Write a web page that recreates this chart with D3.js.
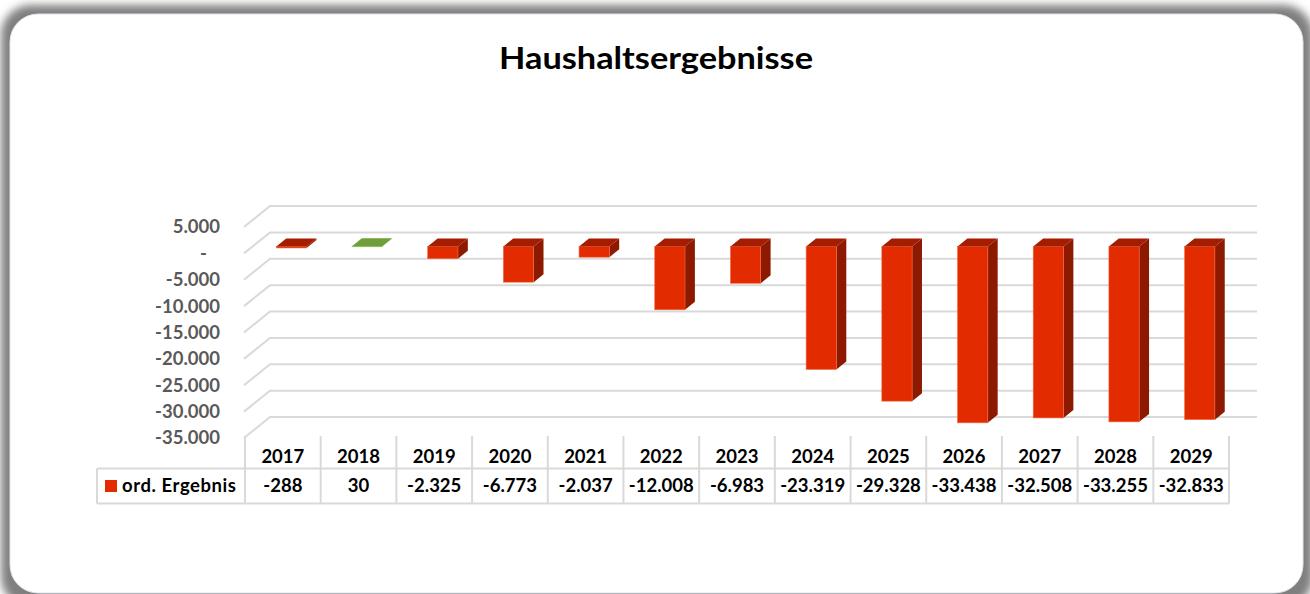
<!DOCTYPE html>
<html>
<head>
<meta charset="utf-8">
<script src="https://cdn.jsdelivr.net/npm/d3@7/dist/d3.min.js"></script>
<style>
  html, body { margin: 0; padding: 0; background: #ffffff; }
  svg { display: block; }
  text { font-family: Lato, "Open Sans", "DejaVu Sans", sans-serif; font-weight: bold; }
</style>
</head>
<body>
<svg id="chart" width="1310" height="594"></svg>
<script>
// ---- data ----
const title = "Haushaltsergebnisse";
const seriesName = "ord. Ergebnis";
const years = ["2017","2018","2019","2020","2021","2022","2023","2024","2025","2026","2027","2028","2029"];
const values = [-288, 30, -2325, -6773, -2037, -12008, -6983, -23319, -29328, -33438, -32508, -33255, -32833];
const tickValues = [5000, 0, -5000, -10000, -15000, -20000, -25000, -30000, -35000];
const tickLabels = ["5.000", "-", "-5.000", "-10.000", "-15.000", "-20.000", "-25.000", "-30.000", "-35.000"];

// ---- layout ----
const W = 1310, H = 594;
const FS = "18.5px";
const svg = d3.select("#chart");
const defs = svg.append("defs");

const f = defs.append("filter").attr("id", "shadow").attr("x", "-5%").attr("y", "-5%").attr("width", "110%").attr("height", "110%");
f.append("feGaussianBlur").attr("stdDeviation", 4);

// card with shadow
svg.append("rect").attr("x", 1).attr("y", 5).attr("width", 1312).attr("height", 602)
  .attr("rx", 30).attr("fill", "#7f7f7f").attr("filter", "url(#shadow)");
svg.append("rect").attr("x", 10).attr("y", 14).attr("width", 1293).attr("height", 579)
  .attr("rx", 28).attr("fill", "#ffffff").attr("stroke", "#dfe6f1").attr("stroke-width", 1);

// scales
const x = d3.scaleBand().domain(years).range([245, 1229]).padding(0);
const yFront = d3.scaleLinear().domain([-35000, 5000]).range([438, 227]);
const DX = 26, DY = -21;          // full depth vector
const f1 = 0.33, f2 = 0.71;       // bar front / back depth fraction
const barW = x.bandwidth() * 0.40;

// gridlines (back wall + left side wall)
const grid = svg.append("g");
tickValues.forEach(v => {
  const yf = yFront(v);
  const x0 = x.range()[0] - 1;
  grid.append("path")
    .attr("d", `M${x0},${yf} L${x0 + DX},${yf + DY} L${x.range()[1] + DX + 2},${yf + DY}`)
    .attr("fill", "none").attr("stroke", "#d9d9d9").attr("stroke-width", 2);
});

// bars
const barsG = svg.append("g");
years.forEach((yr, i) => {
  const v = values[i];
  const pos = v >= 0;
  const xl = x(yr) + x.bandwidth() / 2 - barW / 2 + f1 * DX;
  const xr = xl + barW;
  const y0 = yFront(0) + f1 * DY;
  const yv = yFront(v) + f1 * DY;
  const top = Math.min(y0, yv), bot = Math.max(y0, yv);
  const ddx = (f2 - f1) * DX, ddy = (f2 - f1) * DY;
  const cFront = pos ? "#7aab43" : "#e32b00";
  const cTop = pos ? "#6f9e3a" : "#a51d00";
  const cSide = pos ? "#5a822e" : "#8d1a00";
  const g = barsG.append("g");
  g.append("path")
    .attr("d", `M${xr},${top} L${xr + ddx},${top + ddy} L${xr + ddx},${bot + ddy} L${xr},${bot} Z`)
    .attr("fill", cSide);
  g.append("rect").attr("x", xl).attr("y", top).attr("width", barW).attr("height", Math.max(bot - top, 0.5))
    .attr("fill", cFront).attr("stroke", pos ? "#9cc86a" : "#f26a45").attr("stroke-width", 0.6);
  g.append("path")
    .attr("d", `M${xl},${top} L${xr},${top} L${xr + ddx},${top + ddy} L${xl + ddx},${top + ddy} Z`)
    .attr("fill", cTop);
});

// y axis labels
const axis = d3.axisLeft(yFront).tickValues(tickValues)
  .tickFormat(d => { const l = tickLabels[tickValues.indexOf(d)]; return l === "-" ? "-\u2007\u2009" : l; })
  .tickSize(0).tickPadding(0);
const ag = svg.append("g").attr("transform", "translate(220,0)").call(axis);
ag.select(".domain").remove();
ag.selectAll("text").attr("fill", "#595959").style("font-size", FS)
  .style("font-family", "Lato, 'Open Sans', sans-serif").style("font-weight", "bold");

// data table
const fmtLocale = d3.formatLocale({ decimal: ",", thousands: ".", grouping: [3], currency: ["", ""], minus: "-" });
const fmt = fmtLocale.format(",d");
const tbl = svg.append("g");
const lineC = "#d9d9d9";
const yTop = 436, yMid = 468.5, yBot = 503.5, xLeft = 97;
tbl.append("line").attr("x1", xLeft).attr("x2", x.range()[1]).attr("y1", yMid).attr("y2", yMid).attr("stroke", lineC).attr("stroke-width", 2);
tbl.append("line").attr("x1", xLeft).attr("x2", x.range()[1]).attr("y1", yBot).attr("y2", yBot).attr("stroke", lineC).attr("stroke-width", 2);
tbl.append("line").attr("x1", xLeft).attr("x2", xLeft).attr("y1", yMid).attr("y2", yBot).attr("stroke", lineC).attr("stroke-width", 2);
const bounds = years.map(d => x(d)).concat([x.range()[1]]);
bounds.forEach(bx => {
  tbl.append("line").attr("x1", bx).attr("x2", bx).attr("y1", yTop).attr("y2", yBot).attr("stroke", lineC).attr("stroke-width", 2);
});
years.forEach(yr => {
  tbl.append("text").attr("x", x(yr) + x.bandwidth() / 2).attr("y", 463)
    .attr("text-anchor", "middle").attr("fill", "#000").style("font-size", FS).text(yr);
});
years.forEach((yr, i) => {
  tbl.append("text").attr("x", x(yr) + x.bandwidth() / 2).attr("y", 492)
    .attr("text-anchor", "middle").attr("fill", "#000").style("font-size", FS).text(fmt(values[i]));
});
tbl.append("rect").attr("x", 105).attr("y", 480).attr("width", 12).attr("height", 12).attr("fill", "#e32b00");
tbl.append("text").attr("x", 122).attr("y", 492).attr("fill", "#000").style("font-size", FS)
  .attr("textLength", 114).attr("lengthAdjust", "spacing").text(seriesName);

// title
svg.append("text").attr("x", 656).attr("y", 69).attr("text-anchor", "middle")
  .attr("fill", "#000").style("font-size", "29.5px")
  .attr("textLength", 314).attr("lengthAdjust", "spacingAndGlyphs").text(title);
</script>
</body>
</html>
